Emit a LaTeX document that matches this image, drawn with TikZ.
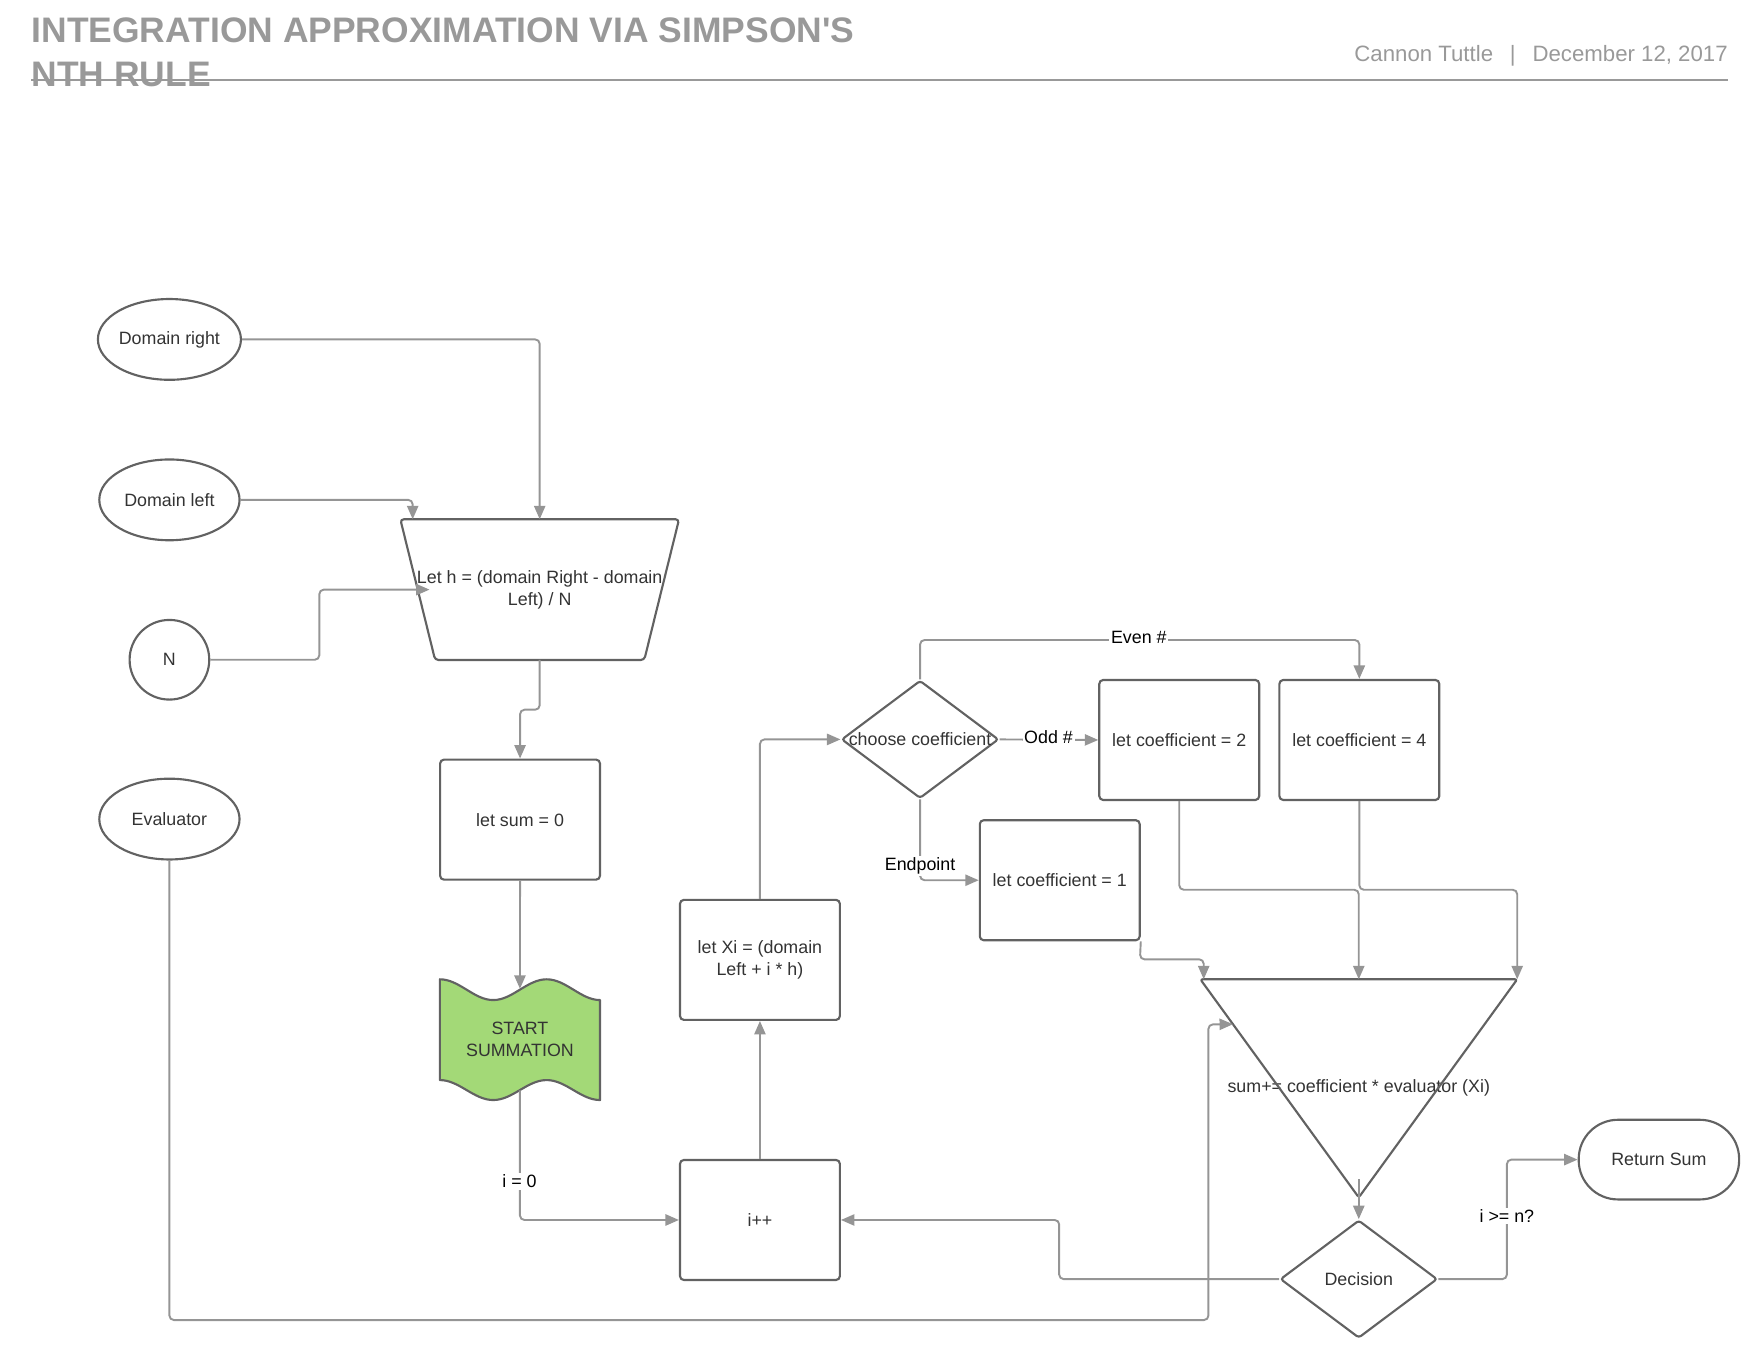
\documentclass[tikz,border=0pt]{standalone}
\usepackage{fontspec}
\setmainfont{Liberation Sans}
\usetikzlibrary{shapes.geometric,arrows.meta,calc}
\definecolor{bord}{HTML}{626262}
\definecolor{con}{HTML}{959595}
\definecolor{txt}{HTML}{333333}
\definecolor{wave}{HTML}{A3D977}
\definecolor{ttl}{HTML}{999999}
\newcommand{\nf}{\fontsize{15.9}{19.3}\selectfont}
\begin{document}
\begin{tikzpicture}[x=1pt,y=-1pt,
  every node/.style={font=\nf, text=txt, inner sep=0pt},
  box/.style={draw=bord, line width=1.9pt, rounded corners=3.5pt, minimum width=142.5pt, minimum height=107pt, align=center},
  oval/.style={ellipse, draw=bord, line width=1.9pt, minimum width=125pt, minimum height=72pt},
  diam/.style={diamond, draw=bord, line width=1.9pt, rounded corners=2.5pt, minimum width=140pt, minimum height=105pt},
  ghost/.style={draw=none, align=center},
  conn/.style={draw=con, line width=1.7pt, rounded corners=4pt, -{Triangle[length=12pt,width=10pt]}},
  lab/.style={fill=white, text=black, inner sep=1.5pt},
  outline/.style={draw=bord, line width=1.9pt, line join=round},
]
\useasboundingbox (0,0) rectangle (1568.6,1212);

% header
\node[anchor=base west, font=\fontsize{31.6}{37}\selectfont\bfseries, text=ttl] (t1) at (28,38) {INTEGRATION APPROXIMATION VIA SIMPSON\textquotesingle S};
\node[anchor=base west, font=\fontsize{31.6}{37}\selectfont\bfseries, text=ttl] (t2) at (28,77) {NTH RULE};
\draw[ttl, line width=1.8pt] (28,71) -- (1540,71);
\node[anchor=base east, font=\fontsize{19.8}{24}\selectfont, text=ttl] (auth) at (1540,54.5) {Cannon Tuttle\hspace{15pt}|\hspace{15pt}December 12, 2017};

% inputs
\node[oval] (dr) at (151,302.5) {Domain right};
\node[oval] (dl) at (151,445.5) {Domain left};
\node[oval, circle, minimum size=71pt] (N) at (151,588) {N};
\node[oval] (ev) at (151,730) {Evaluator};

% trapezoid
\node[ghost, minimum width=248pt, minimum height=125pt] (trap) at (481,525.5) {Let h = (domain Right - domain\\Left) / N};
\draw[outline, rounded corners=3pt] (trap.north west) -- (trap.north east) -- ([xshift=-31pt]trap.south east) -- ([xshift=31pt]trap.south west) -- cycle;

\node[box] (sum) at (463.5,730.5) {let sum = 0};

% wave shape
\fill[wave] (392,872.8) cos (415.8,882) sin (439.6,891.3) cos (463.4,882) sin (487.2,872.8) cos (511,882) sin (534.8,891.3)
  -- (534.8,980.4) cos (511,971.5) sin (487.2,962.6) cos (463.4,971.5) sin (439.6,980.4) cos (415.8,971.5) sin (392,962.6) -- cycle;
\draw[outline] (392,872.8) cos (415.8,882) sin (439.6,891.3) cos (463.4,882) sin (487.2,872.8) cos (511,882) sin (534.8,891.3)
  -- (534.8,980.4) cos (511,971.5) sin (487.2,962.6) cos (463.4,971.5) sin (439.6,980.4) cos (415.8,971.5) sin (392,962.6) -- cycle;
\node[ghost, minimum width=143pt, minimum height=90pt] (start) at (463.4,926.5) {START\\SUMMATION};

\node[box] (xi) at (677.3,855.5) {let Xi = (domain\\Left + i * h)};
\node[box] (inc) at (677.3,1087.3) {i++};

\node[diam, label={center:choose coefficient}] (choose) at (820,659) {};
\node[box] (c2) at (1051,659.5) {let coefficient = 2};
\node[box] (c4) at (1211.5,659.5) {let coefficient = 4};
\node[box] (c1) at (944.5,784.5) {let coefficient = 1};

% triangle
\node[ghost, minimum width=282pt, minimum height=194pt] (tri) at (1211,970) {sum+= coefficient * evaluator (Xi)};
\draw[outline, rounded corners=2pt] (tri.north west) -- (tri.north east) -- (tri.south) -- cycle;
\coordinate (tin) at ($(tri.north west)!0.206!(tri.south)$);

\node[diam, label={center:Decision}] (dec) at (1211,1140) {};
\node[draw=bord, line width=1.9pt, rounded corners=35pt, minimum width=143pt, minimum height=71pt] (ret) at (1478.5,1033.5) {Return Sum};

% connectors
\draw[conn] (dr.east) -| (trap.north);
\draw[conn] (dl.east) -| ([xshift=11pt]trap.north west);
\draw[conn] (N.east) -| (284.6,525.5) -- ([xshift=26pt]trap.west);
\draw[conn] (trap.south) -- (481,632.5) -| (sum.north);
\draw[conn] (sum.south) -- (start.north);
\draw[conn] (start.south) |- (inc.west);
\draw[conn] (inc.north) -- (xi.south);
\draw[conn] (xi.north) |- (choose.west);
\draw[conn] (choose.north) -- (820,570.4) -| (c4.north);
\draw[conn] (choose.east) -- (c2.west);
\draw[conn] (choose.south) |- (c1.west);
\draw[conn] (c2.south) -- (1051,793) -| (tri.north);
\draw[conn] (c4.south) -- (1211.5,793) -| (tri.north east);
\draw[conn] (c1.south east) -- (1016,855) -| ([xshift=3pt]tri.north west);
\draw[conn] (ev.south) |- (1077,1176.5) -- (1077,913) -- (tin);
\draw[conn] ([yshift=16pt]tri.south) -- (dec.north);
\draw[conn] (dec.west) -- (944,1140) |- (inc.east);
\draw[conn] (dec.east) -- (1343,1140) |- (ret.west);

% labels
\node[lab] (le) at (1015,568) {Even \#};
\node[lab] (lo) at (934.5,657) {Odd \#};
\node[lab] (lp) at (820,772) {Endpoint};
\node[lab] (l0) at (463,1053) {i = 0};
\node[lab] (ln) at (1343,1084) {i >= n?};
\end{tikzpicture}
\end{document}
